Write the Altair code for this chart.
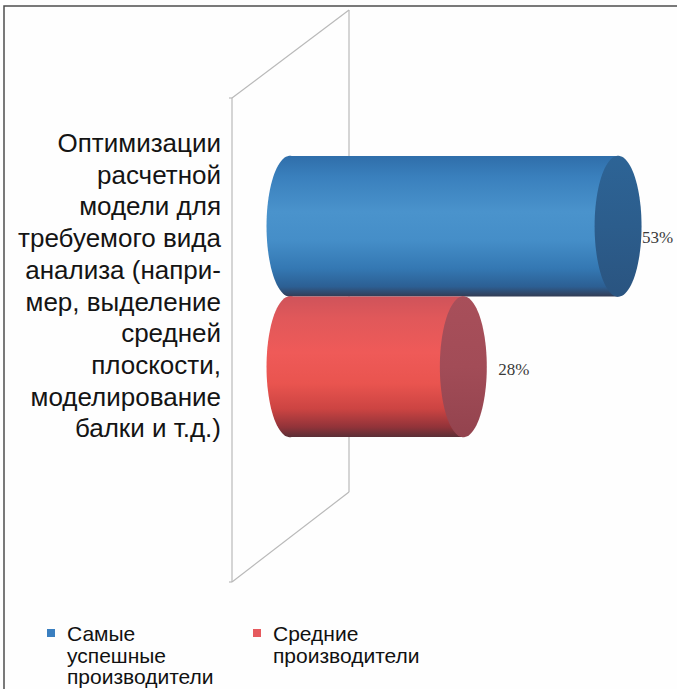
import numpy as np
import pandas as pd
import altair as alt

# --- data -------------------------------------------------------------------
category = ("Оптимизации\nрасчетной\nмодели для\nтребуемого вида\nанализа (напри-\n"
            "мер, выделение\nсредней\nплоскости,\nмоделирование\nбалки и т.д.)")
series = ["Самые успешные производители", "Средние производители"]
legend_text = ["Самые\nуспешные\nпроизводители", "Средние\nпроизводители"]
values = [53, 28]
value_labels = ["53%", "28%"]

df = pd.DataFrame({
    "series": series,
    "value": values,
    "label": value_labels,
    "legend": legend_text,
})
cat_df = pd.DataFrame({"category": [category]})

# --- styling ----------------------------------------------------------------
W, H = 677, 689
body_stops = {
    series[0]: [("#2f6eaa", 0.0), ("#3a80bd", 0.15), ("#4a93cc", 0.4), ("#458ec8", 0.6),
                ("#3478b3", 0.8), ("#2c5f93", 0.93), ("#333c55", 1.0)],
    series[1]: [("#cf535a", 0.0), ("#e0585a", 0.15), ("#ef5a58", 0.4), ("#e9544f", 0.62),
                ("#cc4442", 0.8), ("#913339", 0.93), ("#5b2e36", 1.0)],
}
cap_stops = {
    series[0]: [("#2d6496", 0.0), ("#2c5d8c", 0.5), ("#2a5480", 1.0)],
    series[1]: [("#a84f5a", 0.0), ("#a24c57", 0.5), ("#93434e", 1.0)],
}
legend_color = {series[0]: "#3a7fc0", series[1]: "#e65a5e"}
legend_pos = {series[0]: (51, 67), series[1]: (257, 273)}
label_offset = {series[0]: (24, 12), series[1]: (35, 3)}


def grad(stops):
    return alt.Gradient(
        gradient="linear",
        stops=[alt.GradientStop(color=c, offset=o) for c, o in stops],
        x1=0, x2=0, y1=0, y2=1,
    )


# elliptical end of a cylinder as a custom symbol path
t = np.linspace(0, 2 * np.pi, 90, endpoint=False)
ELLIPSE = "M" + " L".join(f"{0.333 * np.cos(a):.4f},{np.sin(a):.4f}" for a in t) + " Z"
ELLIPSE_SIZE = 141 ** 2

x_scale = alt.Scale(domain=[-290 / 6.19, (W - 290) / 6.19], range=[0, W], nice=False, zero=False)
y_scale = alt.Scale(domain=series, range=[156, 437], paddingInner=0, paddingOuter=0)

base = alt.Chart(df)
Y = alt.Y("series:N", scale=y_scale, axis=None, sort=series)

layers = []

# outer frame
layers.append(
    alt.Chart(cat_df).mark_rect(fillOpacity=0, stroke="#4d4d4d", strokeWidth=1.5).encode(
        x=alt.value(4), x2=alt.value(W + 10), y=alt.value(6), y2=alt.value(H + 10)
    )
)

# back wall of the 3D plot
wall = [((232, 98), (349, 10)), ((232, 98), (232, 582)), ((349, 10), (349, 492)),
        ((232, 582), (349, 492)), ((229, 98), (232, 98)), ((229, 582), (232, 582))]
for (xa, ya), (xb, yb) in wall:
    layers.append(
        alt.Chart(cat_df).mark_rule(color="#b9b9b9", strokeWidth=1.2).encode(
            x=alt.value(xa), y=alt.value(ya), x2=alt.value(xb), y2=alt.value(yb)
        )
    )

# category label
layers.append(
    alt.Chart(cat_df).mark_text(
        align="right", baseline="alphabetic", lineBreak="\n", lineHeight=31.7,
        font="Liberation Sans", fontSize=26, color="#141414",
    ).encode(text="category:N", x=alt.value(221), y=alt.value(152))
)

for s in series:
    sub = base.transform_filter(alt.datum.series == s)
    # rounded left end
    layers.append(
        sub.mark_point(shape=ELLIPSE, size=ELLIPSE_SIZE, filled=True, opacity=1,
                       fill=grad(body_stops[s]), strokeWidth=0).encode(
            x=alt.XDatum(0, type="quantitative", scale=x_scale, axis=None), y=Y)
    )
    # cylinder body
    layers.append(
        sub.mark_bar(fill=grad(body_stops[s]), strokeWidth=0).encode(
            x=alt.X("value:Q", scale=x_scale, axis=None), x2=alt.datum(0), y=Y)
    )
    # end cap
    layers.append(
        sub.mark_point(shape=ELLIPSE, size=ELLIPSE_SIZE, filled=True, opacity=1,
                       fill=grad(cap_stops[s]), strokeWidth=0).encode(
            x=alt.X("value:Q", scale=x_scale, axis=None), y=Y)
    )
    # value label
    dx, dy = label_offset[s]
    layers.append(
        sub.mark_text(align="left", baseline="middle", dx=dx, dy=dy,
                      font="Liberation Serif", fontSize=17, color="#3a3a3a").encode(
            x=alt.X("value:Q", scale=x_scale, axis=None), y=Y, text="label:N")
    )
    # legend entry
    sx, tx = legend_pos[s]
    layers.append(
        sub.mark_square(size=64, color=legend_color[s], opacity=1).encode(
            x=alt.value(sx), y=alt.value(633))
    )
    layers.append(
        sub.mark_text(align="left", baseline="alphabetic", lineBreak="\n", lineHeight=21.5,
                      font="Liberation Sans", fontSize=21, color="#111111").encode(
            x=alt.value(tx), y=alt.value(641), text="legend:N")
    )

chart = alt.layer(*layers).properties(
    width=W, height=H, padding=0, autosize="none", background="#fefefe"
).configure_view(strokeWidth=0)

chart.save("out.html", embed_options={"renderer": "svg", "actions": False})
